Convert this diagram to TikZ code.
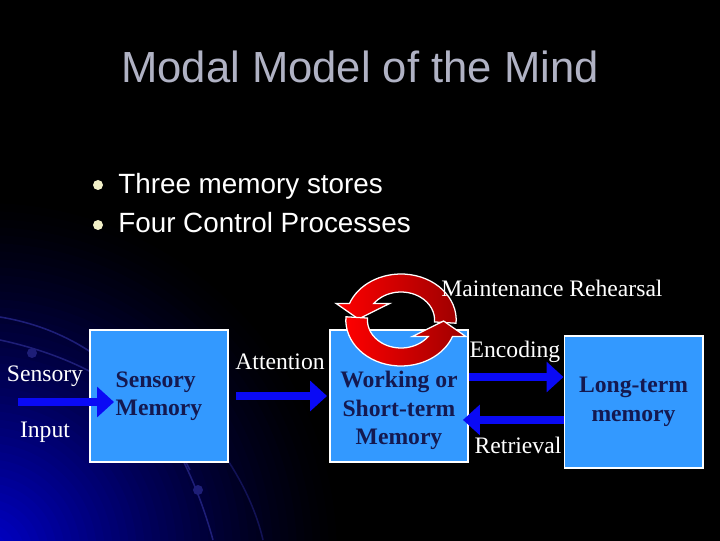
\documentclass[tikz,border=0pt]{standalone}
\usepackage{fontspec}
\setmainfont{Liberation Serif}
\newfontfamily\arialfont{Liberation Sans}
\usetikzlibrary{arrows.meta, positioning, calc}

\definecolor{boxblue}{RGB}{51,153,255}
\definecolor{boxtxt}{RGB}{20,25,80}
\definecolor{titlegray}{RGB}{176,178,196}
\definecolor{flowblue}{RGB}{10,10,245}
\definecolor{dotyellow}{RGB}{242,240,200}
\definecolor{decoblue}{RGB}{30,30,120}

\begin{document}
\begin{tikzpicture}[
    x=0.025cm, y=0.025cm,
    box/.style      = {draw=white, line width=1.4pt, fill=boxblue,
                       minimum width=3.45cm, minimum height=3.3cm, inner sep=0pt},
    boxtext/.style  = {font=\fontsize{16.8}{20.3}\selectfont\bfseries,
                       text=boxtxt, align=center},
    flow/.style     = {-{Triangle[length=12pt, width=21pt]}, line width=5.6pt, flowblue},
    lbl/.style      = {font=\fontsize{16.8}{20}\selectfont, text=white,
                       anchor=base, inner sep=0pt},
    bullet/.style   = {font=\arialfont\fontsize{19.8}{24}\selectfont, text=white,
                       anchor=base west, inner sep=0pt},
    rehearse/.style = {draw=white, line width=0.9pt,
                       left color=red, right color=red!62!black},
    deco/.style     = {decoblue, line width=1.1pt},
]

%% Background
\useasboundingbox (0,0) rectangle (720,540);
\fill[black] (-10,-10) rectangle (730,550);
\begin{scope}
  \clip (0,0) rectangle (720,540);
  \foreach \r in {45,...,1} {
    \pgfmathsetmacro\pc{82*(1-\r/45)^1.3}
    \fill[blue!\pc!black] (-15,-15) circle (\r*8);
  }
  \draw[deco] (0,223) .. controls (110,205) and (180,120) .. (213,0);
  \draw[deco] (0,200) .. controls (70,185) and (150,150) .. (190,70);
  \draw[deco, opacity=0.6] (205,110) .. controls (235,75) and (255,35) .. (263,0);
  \fill[decoblue] (32,187) circle (5);
  \fill[decoblue] (198,50) circle (5);
\end{scope}

%% Title and bullets
\node[font=\arialfont\fontsize{31}{36}\selectfont, text=titlegray, anchor=base]
    (title) at (360,457) {Modal Model of the Mind};
\node[bullet] (b1) at (118,346) {Three memory stores};
\node[bullet] (b2) at (118,307) {Four Control Processes};
\fill[dotyellow] (98,355) circle (5);
\fill[dotyellow] (98,315) circle (5);

%% Memory stores
\node[box, boxtext, align=left] (smem) at (159,144) {Sensory\\Memory};
\node[box] (stm) at (399,144) {};
\node[boxtext] (stmtext) at ([yshift=-10.3pt]stm.center) {Working or\\Short-term\\Memory};
\node[box, boxtext] (ltm) at (633.5,138) {Long-term\\memory};

%% Maintenance rehearsal loop
\begin{scope}[shift={(401,220)}, xscale=1.2]
  \shadedraw[rehearse] (-4:46) arc[start angle=-4, end angle=159, radius=46]
      -- (-54,16.5) -- (-35.5,1) -- (-9.5,16.5)
      -- (144:28) arc[start angle=144, end angle=-4, radius=28] -- cycle;
  \begin{scope}[rotate=180]
    \shadedraw[rehearse] (-4:46) arc[start angle=-4, end angle=159, radius=46]
        -- (-54,16.5) -- (-35.5,1) -- (-9.5,16.5)
        -- (144:28) arc[start angle=144, end angle=-4, radius=28] -- cycle;
  \end{scope}
\end{scope}

%% Labels
\node[lbl] (sens) at (45,159)  {Sensory};
\node[lbl] (inp)  at (45,103)  {Input};
\node[lbl] (att)  at (280,171) {Attention};
\node[lbl] (enc)  at (515,183) {Encoding};
\node[lbl] (ret)  at (518,87)  {Retrieval};
\node[lbl] (mr)   at (552,244) {Maintenance Rehearsal};

%% Arrows
\coordinate (in) at (18,138);
\coordinate (intip) at ($(in -| smem.west)+(25,0)$);
\draw[flow] (in) -- (intip);
\draw[flow, shorten <=5pt, shorten >=1.4pt] (smem) -- (stm);
\draw[flow] ([yshift=13.5pt]stm.east) -- ([yshift=13.5pt]stm.east -| ltm.west);
\draw[flow] ([yshift=-17pt]stm.east -| ltm.west) -- ([xshift=-4.3pt, yshift=-17pt]stm.east);

\end{tikzpicture}
\end{document}
